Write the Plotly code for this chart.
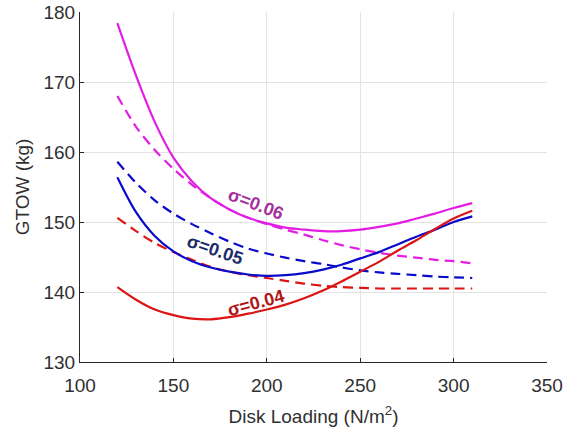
import plotly.graph_objects as go

disk_loading = [120, 130, 140, 150, 160, 170, 180, 190, 200, 210, 220, 230, 240, 250, 260, 270, 280, 290, 300, 310]

gtow_s06_solid = [178.4, 170.9, 164.3, 159.2, 155.8, 153.4, 151.8, 150.6, 149.8, 149.2, 148.9, 148.7, 148.7, 148.9, 149.3, 149.8, 150.5, 151.2, 152.0, 152.7]
gtow_s06_dash = [168.0, 163.6, 160.3, 157.6, 155.3, 153.4, 151.8, 150.6, 149.7, 148.9, 148.2, 147.4, 146.7, 146.1, 145.6, 145.2, 144.9, 144.6, 144.4, 144.1]
gtow_s05_solid = [156.4, 151.4, 148.0, 145.8, 144.4, 143.5, 142.9, 142.5, 142.3, 142.4, 142.7, 143.2, 143.9, 144.8, 145.7, 146.8, 147.9, 148.9, 150.0, 150.8]
gtow_s05_dash = [158.6, 155.6, 153.1, 151.2, 149.7, 148.4, 147.2, 146.2, 145.5, 144.9, 144.4, 144.0, 143.5, 143.1, 142.8, 142.6, 142.4, 142.2, 142.1, 142.0]
gtow_s04_solid = [140.7, 138.9, 137.5, 136.7, 136.2, 136.1, 136.4, 136.9, 137.5, 138.2, 139.1, 140.2, 141.5, 142.9, 144.3, 145.9, 147.4, 149.0, 150.5, 151.6]
gtow_s04_dash = [150.6, 148.7, 147.0, 145.7, 144.6, 143.6, 142.9, 142.4, 142.0, 141.6, 141.2, 140.9, 140.7, 140.6, 140.5, 140.5, 140.5, 140.5, 140.5, 140.5]

labels = ["σ=0.06", "σ=0.05", "σ=0.04"]
label_x = [194, 172.5, 194]
label_y = [152.6, 146.0, 138.4]

x_ticks = [100, 150, 200, 250, 300, 350]
y_ticks = [130, 140, 150, 160, 170, 180]

MAG = "#E31EE3"
BLU = "#0A0ACB"
RED = "#DC1414"
DASH = "10px,6px"

fig = go.Figure()
series = [
    (gtow_s06_solid, MAG, "solid"),
    (gtow_s06_dash, MAG, DASH),
    (gtow_s05_dash, BLU, DASH),
    (gtow_s04_dash, RED, DASH),
    (gtow_s05_solid, BLU, "solid"),
    (gtow_s04_solid, RED, "solid"),
]
for ys, col, dash in series:
    fig.add_trace(go.Scatter(x=disk_loading, y=ys, mode="lines",
                             line=dict(color=col, width=2.2, dash=dash, shape="spline", smoothing=0.9),
                             showlegend=False, hoverinfo="skip"))

label_colors = ["#A3309C", "#1B2B6B", "#B01515"]
label_angles = [21, 19, -15]
for t, lx, ly, c, a in zip(labels, label_x, label_y, label_colors, label_angles):
    fig.add_annotation(x=lx, y=ly, text="<b>" + t + "</b>", showarrow=False,
                       textangle=a, font=dict(size=18, color=c,
                                              family="Liberation Sans, Arial, sans-serif"))

axis_font = dict(size=19, color="#303030", family="Liberation Sans, Arial, sans-serif")
fig.update_layout(
    width=570, height=431,
    margin=dict(l=80, r=23, t=12, b=69),
    paper_bgcolor="white", plot_bgcolor="white",
    font=axis_font,
    xaxis=dict(range=[100, 350], tickvals=x_ticks, showgrid=True, gridcolor="#E3E3E3",
               gridwidth=1, showline=True, linecolor="#262626", linewidth=1.2,
               ticks="inside", ticklen=4, tickcolor="#262626", zeroline=False,
               tickfont=axis_font, automargin=False, ticklabelstandoff=6,
               title=dict(text="Disk Loading (N/m<sup>2</sup>)", font=axis_font, standoff=14)),
    yaxis=dict(range=[130, 180], tickvals=y_ticks, showgrid=True, gridcolor="#E3E3E3",
               gridwidth=1, showline=True, linecolor="#262626", linewidth=1.2,
               ticks="inside", ticklen=4, tickcolor="#262626", zeroline=False,
               tickfont=axis_font, automargin=False,
               title=dict(text="GTOW (kg)", font=axis_font, standoff=8)),
)
fig.write_html("out.html", config={"displayModeBar": False},
               post_script="document.body.style.margin='0px';document.body.style.overflow='hidden';")
